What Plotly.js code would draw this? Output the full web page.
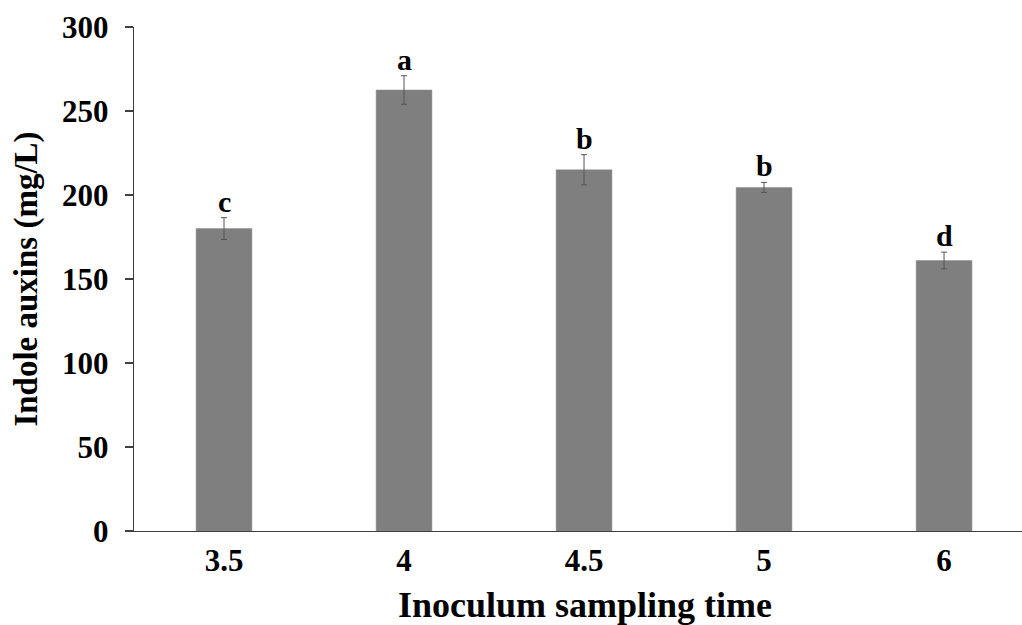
<!DOCTYPE html>
<html>
<head>
<meta charset="utf-8">
<script src="https://cdn.plot.ly/plotly-3.0.1.min.js"></script>
<style>html,body{margin:0;padding:0;background:#fff;}#chart{width:1022px;height:625px;}</style>
</head>
<body>
<div id="chart"></div>
<script>
const categories = ["3.5", "4", "4.5", "5", "6"];
const means = [180, 262.5, 215, 204.5, 161];
const errors = [6.5, 8.5, 9, 3, 5];
const letters = ["c", "a", "b", "b", "d"];
const yTicks = [0, 50, 100, 150, 200, 250, 300];
const xTitle = "Inoculum sampling time";
const yTitle = "Indole auxins (mg/L)";

const fontFam = "'Liberation Serif', 'Times New Roman', serif";

const trace = {
  type: "bar",
  x: categories,
  y: means,
  marker: {color: "#7f7f7f", line: {color: "#8c8c8c", width: 0.5}},
  error_y: {type: "data", array: errors, visible: true, color: "#555555", thickness: 1, width: 3},
  hoverinfo: "x+y"
};

const annotations = categories.map((c, i) => ({
  x: i, y: means[i] + errors[i], xref: "x", yref: "y",
  text: "<b>" + letters[i] + "</b>", showarrow: false,
  yanchor: "bottom", yshift: -2,
  font: {family: fontFam, size: 30, color: "#000"}
}));

// x-axis title placed as an annotation so it can sit low like the reference
annotations.push({
  x: 0.508, y: -0.146, xref: "paper", yref: "paper",
  xanchor: "center", yanchor: "middle", showarrow: false,
  text: "<b>" + xTitle + "</b>",
  font: {family: fontFam, size: 36, color: "#000"}
});

const layout = {
  width: 1022, height: 625,
  margin: {l: 134, r: 0, t: 27, b: 94, pad: 0},
  paper_bgcolor: "#fff", plot_bgcolor: "#fff",
  bargap: 0.69,
  showlegend: false,
  font: {family: fontFam, color: "#000"},
  xaxis: {
    type: "category",
    range: [-0.5, 4.433],
    showline: true, linecolor: "#404040", linewidth: 1.3,
    ticks: "", showgrid: false, zeroline: false,
    tickfont: {family: fontFam, size: 31, color: "#000", weight: "bold"},
    ticklabelstandoff: 1,
    automargin: false
  },
  yaxis: {
    range: [0, 300],
    tickvals: yTicks,
    showline: true, linecolor: "#404040", linewidth: 1.3,
    ticks: "outside", ticklen: 8, tickcolor: "#404040", tickwidth: 1.3,
    showgrid: false, zeroline: false,
    tickfont: {family: fontFam, size: 31, color: "#000", weight: "bold"},
    ticklabelstandoff: 10,
    title: {text: "<b>" + yTitle + "</b>", font: {family: fontFam, size: 33, color: "#000"}, standoff: 14},
    automargin: false
  },
  annotations: annotations
};

Plotly.newPlot("chart", [trace], layout, {displayModeBar: false, staticPlot: true});
</script>
</body>
</html>
